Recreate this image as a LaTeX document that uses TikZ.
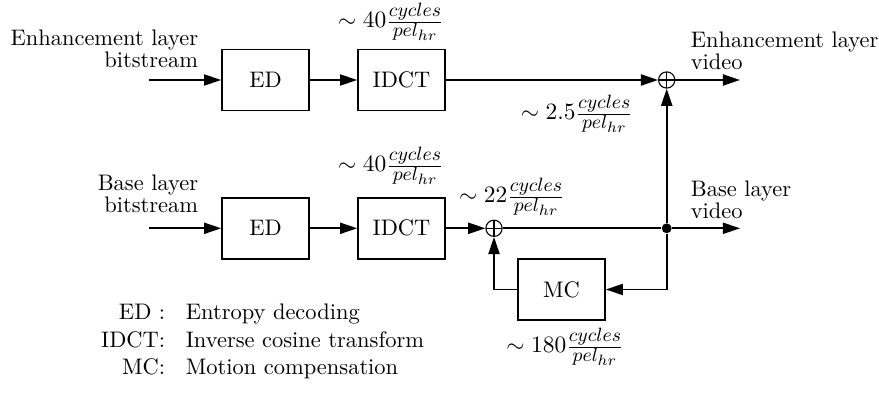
\documentclass[tikz,border=0pt]{standalone}
\usetikzlibrary{arrows.meta}
\DeclareMathSizes{10.5}{10.5}{9.2}{7}
\begin{document}
\begin{tikzpicture}[x=0.4673pt,y=-0.4673pt,
  line width=0.8pt,
  every node/.style={font=\fontsize{10.5}{12.6}\selectfont},
  block/.style={draw, minimum width=87*0.4673pt, minimum height=61*0.4673pt, inner sep=0pt},
  summer/.style={circle, draw, line width=0.5pt, minimum size=7.6pt, inner sep=0pt,
    path picture={\draw[line width=0.5pt]
      (path picture bounding box.north) -- (path picture bounding box.south)
      (path picture bounding box.west) -- (path picture bounding box.east);}},
  junction/.style={circle, fill, minimum size=4.6pt, inner sep=0pt},
  arr/.style={-{Triangle[length=8pt,width=5.2pt]}},
  lbl/.style={inner sep=0pt, align=left},
  cost/.style={inner sep=0pt}]
\path[use as bounding box] (0,0) rectangle (879,402);

% enhancement layer path
\node[block] (ed1) at (265.5,80) {ED};
\node[block] (idct1) at (401.5,80) {IDCT};
\node[summer] (sum1) at (666.7,80) {};
\coordinate (in1) at (149,80);
\coordinate (out1) at (740,80);
\node[lbl, align=right, anchor=south east] (tin1) at (199,69) {Enhancement layer\\[-2pt]bitstream};
\node[lbl, anchor=south west] (tout1) at (690,71) {Enhancement layer\\[-2pt]video};
\node[cost] (c1) at (391,22) {$\sim 40\frac{cycles}{pel_{hr}}$};
\node[cost] (c2) at (577,114) {$\sim 2.5\frac{cycles}{pel_{hr}}$};

% base layer path
\node[block] (ed2) at (265.5,228.3) {ED};
\node[block] (idct2) at (401.5,228.3) {IDCT};
\node[summer] (sum2) at (494,228.3) {};
\node[junction] (dot) at (666.7,228.3) {};
\node[block] (mc) at (561.5,289.5) {MC};
\coordinate (in2) at (149,228.3);
\coordinate (out2) at (740,228.3);
\node[lbl, align=right, anchor=south east] (tin2) at (199,214) {Base layer\\[-2pt]bitstream};
\node[lbl, anchor=south west] (tout2) at (690,220) {Base layer\\[-2pt]video};
\node[cost] (c3) at (391,166) {$\sim 40\frac{cycles}{pel_{hr}}$};
\node[cost] (c4) at (512,197) {$\sim 22\frac{cycles}{pel_{hr}}$};
\node[cost] (c5) at (565,347) {$\sim 180\frac{cycles}{pel_{hr}}$};

% connectors
\draw[arr] (in1) -- (ed1);
\draw[arr] (ed1) -- (idct1);
\draw[arr] (idct1) -- (sum1);
\draw[arr] (sum1) -- (out1);
\draw[arr] (in2) -- (ed2);
\draw[arr] (ed2) -- (idct2);
\draw[arr] (idct2) -- (sum2);
\draw (sum2) -- (dot);
\draw[arr] (dot) -- (out2);
\draw[arr] (dot) -- (sum1);
\draw[arr] (dot) |- (mc);
\draw[arr] (mc) -| (sum2);

% legend
\node[anchor=base east, inner sep=0pt] (k1) at (166,320) {ED :};
\node[anchor=base west, inner sep=0pt] (v1) at (185,320) {Entropy decoding};
\node[anchor=base east, inner sep=0pt] (k2) at (166,348) {IDCT:};
\node[anchor=base west, inner sep=0pt] (v2) at (185,348) {Inverse cosine transform};
\node[anchor=base east, inner sep=0pt] (k3) at (166,374) {MC:};
\node[anchor=base west, inner sep=0pt] (v3) at (185,374) {Motion compensation};
\end{tikzpicture}
\end{document}
